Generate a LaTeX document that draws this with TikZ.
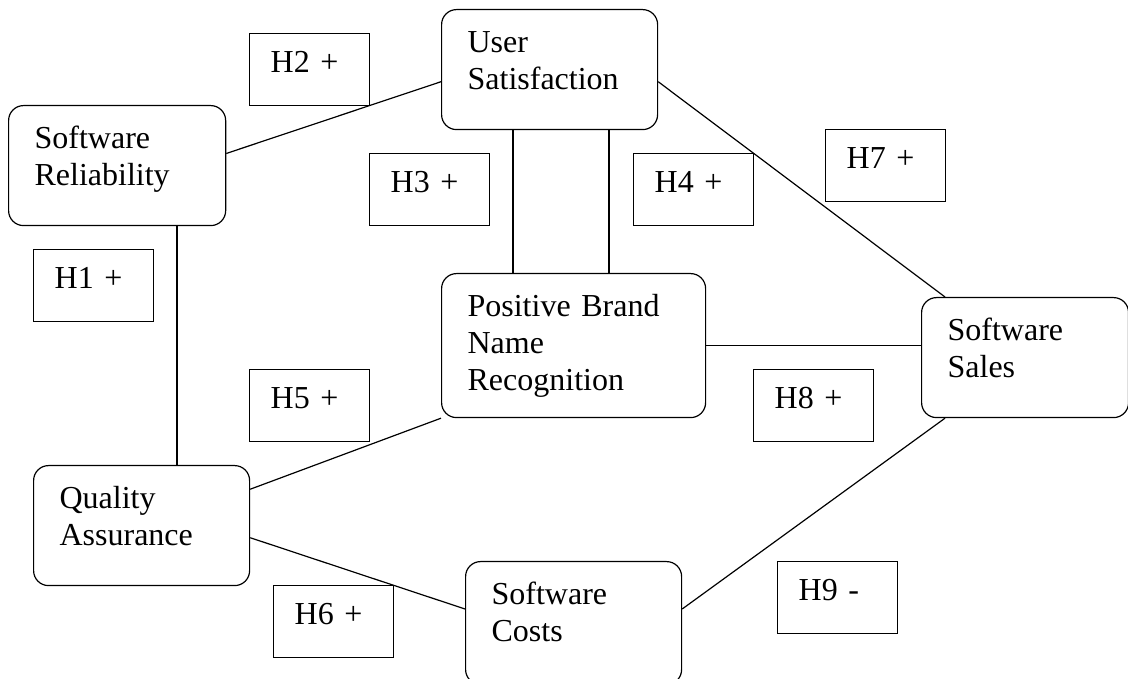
\documentclass[tikz,border=0pt]{standalone}
\usepackage{fontspec}
\setmainfont{Liberation Serif}
\usetikzlibrary{calc}

\begin{document}
\begin{tikzpicture}[x=0.375pt, y=-0.375pt,
    font=\fontsize{12}{13.9}\selectfont, line width=0.45pt,
    construct/.style={draw, rounded corners=5.6pt, anchor=north west, align=left,
      inner xsep=9.75pt, inner ysep=0pt, text height=16.1pt, text depth=28.9pt, text width=#1},
    hyp/.style={draw, anchor=north west, align=left, inner xsep=7.9pt, inner ysep=0pt,
      text width=29.2pt, text height=14.6pt, text depth=12.4pt}]

      \useasboundingbox (0,0) rectangle (1128,679);

      \begin{scope}
        \node[construct=61.9pt] (sr) at (8,105) {Software\\Reliability};
        \node[construct=61.5pt] (us) at (441,9) {User\\Satisfaction};
        \node[construct=79.5pt, text depth=37.9pt] (pbnr) at (441,273) {Positive Brand\\Name\\Recognition};
        \node[construct=58.1pt] (ss) at (921,297) {Software\\Sales};
        \node[construct=61.5pt] (qa) at (33,465) {Quality\\Assurance};
        \node[construct=61.5pt, text depth=30pt] (sc) at (465,561) {Software\\Costs};
      \end{scope}

      \begin{scope}[every node/.style={hyp}]
        \node (h1) at (33,249)  {H1 +};
        \node (h2) at (249,33)  {H2 +};
        \node (h3) at (369,153) {H3 +};
        \node (h4) at (633,153) {H4 +};
        \node (h5) at (249,369) {H5 +};
        \node (h6) at (273,585) {H6 +};
        \node (h7) at (825,129) {H7 +};
        \node (h8) at (753,369) {H8 +};
        \node (h9) at (777,561) {H9 -};
      \end{scope}

      \begin{scope}[every edge/.style={draw}]
        \path ($(sr.south west)+(169,0)$) edge ($(qa.north west)+(144,0)$);
        \path ($(sr.north east)!0.4!(sr.south east)$) edge ($(us.north west)!0.6!(us.south west)$);
        \path ($(us.south west)+(72,0)$) edge ($(pbnr.north west)+(72,0)$);
        \path ($(us.south west)+(168,0)$) edge ($(pbnr.north west)+(168,0)$);
        \path ($(qa.north east)!0.2!(qa.south east)$) edge (pbnr.south west);
        \path ($(qa.north east)!0.6!(qa.south east)$) edge ($(sc.north west)+(0,48)$);
        \path ($(us.north east)!0.6!(us.south east)$) edge ($(ss.north west)+(24,0)$);
        \path (pbnr.east) edge (pbnr.east -| ss.west);
        \path ($(sc.north east)+(0,48)$) edge ($(ss.south west)+(24,0)$);
      \end{scope}

    \end{tikzpicture}
\end{document}
